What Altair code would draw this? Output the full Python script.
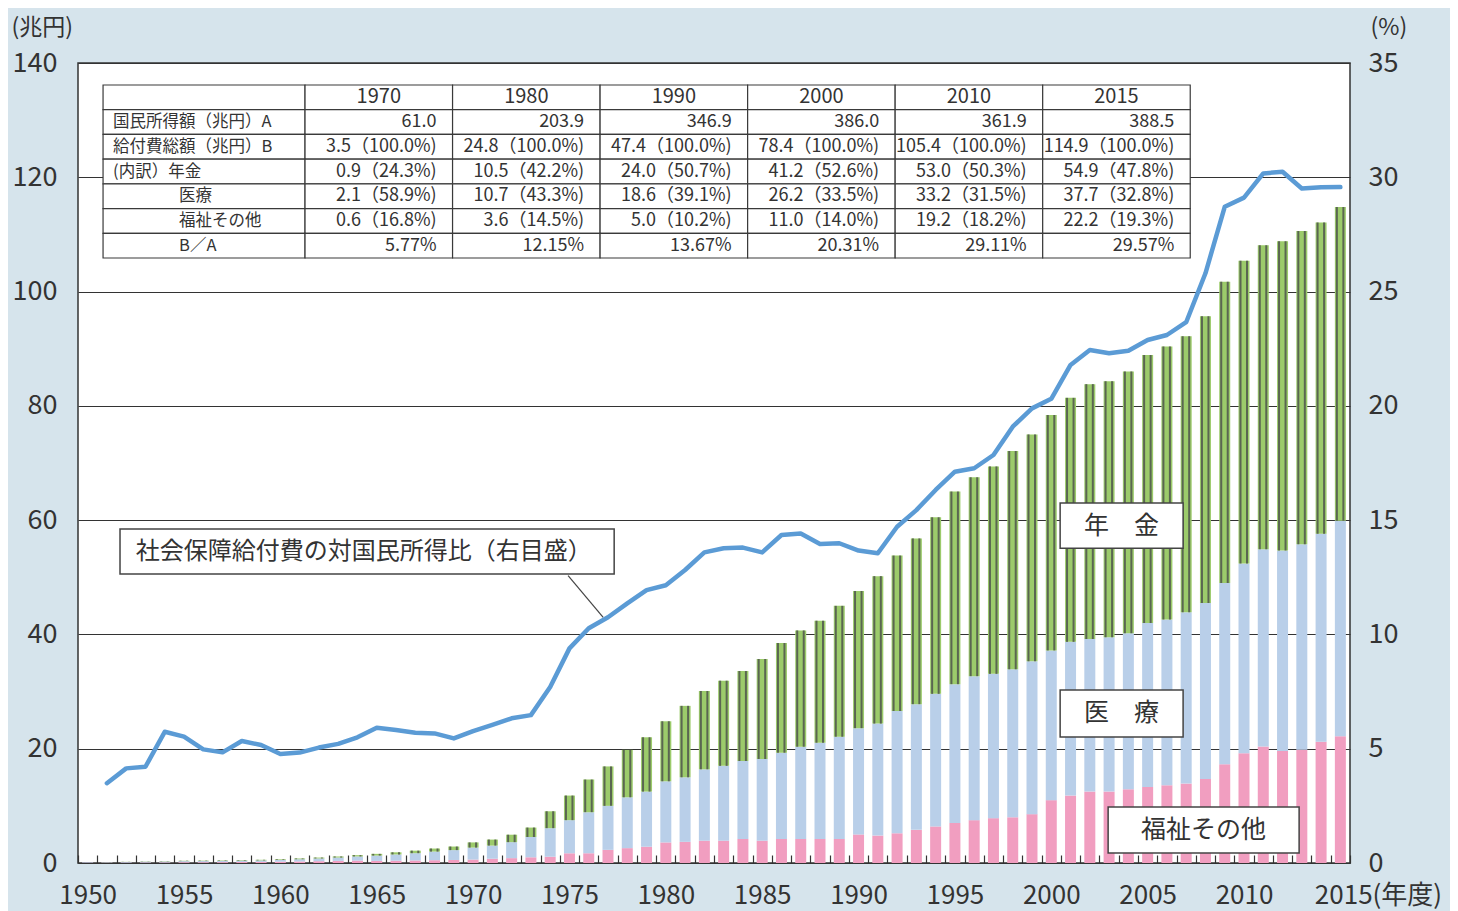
import altair as alt
import pandas as pd

FONT = "Noto Sans CJK JP"
W, H = 1272, 800
BG = "#d6e4ec"
TXT = "#333333"

# ---------------- data ----------------
years = list(range(1950, 2016))
pension = [0.01, 0.02, 0.03, 0.04, 0.05, 0.06, 0.07, 0.08, 0.09, 0.10,
           0.11, 0.13, 0.15, 0.18, 0.22, 0.30, 0.37, 0.44, 0.53, 0.62,
           0.9, 1.05, 1.3, 1.65, 2.95, 4.3, 5.7, 6.9, 8.3, 9.5,
           10.5, 12.5, 13.7, 14.9, 15.75, 17.5, 19.2, 20.35, 21.35, 22.9,
           24.0, 25.8, 27.2, 29.0, 30.9, 33.7, 34.8, 36.3, 38.2, 39.7,
           41.2, 42.7, 44.6, 44.8, 45.8, 46.9, 47.8, 48.3, 50.2, 52.7,
           53.0, 53.2, 54.1, 54.8, 54.5, 54.9]
medical = [0.06, 0.08, 0.10, 0.13, 0.15, 0.19, 0.20, 0.22, 0.26, 0.28,
           0.31, 0.39, 0.48, 0.59, 0.73, 0.93, 1.10, 1.28, 1.51, 1.73,
           2.1, 2.3, 2.8, 3.55, 5.0, 5.8, 7.2, 7.7, 8.9, 9.65,
           10.7, 11.3, 12.5, 13.1, 13.65, 14.3, 15.1, 16.15, 16.85, 17.9,
           18.6, 19.6, 21.4, 22.0, 23.2, 24.3, 25.2, 25.25, 25.9, 26.75,
           26.2, 26.9, 26.7, 27.0, 27.3, 28.7, 29.0, 30.0, 30.8, 31.7,
           33.2, 34.5, 35.1, 36.0, 36.4, 37.7]
welfare = [0.06, 0.06, 0.07, 0.09, 0.10, 0.14, 0.14, 0.15, 0.17, 0.18,
           0.23, 0.27, 0.32, 0.37, 0.42, 0.37, 0.40, 0.44, 0.49, 0.53,
           0.6, 0.75, 0.85, 1.0, 1.1, 1.7, 1.7, 2.3, 2.6, 2.85,
           3.6, 3.7, 3.9, 3.9, 4.2, 3.9, 4.2, 4.2, 4.2, 4.2,
           5.0, 4.8, 5.2, 5.8, 6.4, 7.0, 7.5, 7.85, 8.0, 8.55,
           11.0, 11.8, 12.5, 12.5, 12.9, 13.3, 13.6, 13.9, 14.7, 17.3,
           19.2, 20.4, 19.6, 19.8, 21.2, 22.2]

ratio_years = list(range(1951, 2016))
ratio = [3.49, 4.14, 4.21, 5.74, 5.53, 4.97, 4.84, 5.34, 5.16,
         4.77, 4.83, 5.05, 5.21, 5.5, 5.92, 5.82, 5.7, 5.67, 5.45,
         5.77, 6.04, 6.33, 6.47, 7.7, 9.39, 10.27, 10.75, 11.36, 11.94,
         12.15, 12.82, 13.59, 13.77, 13.8, 13.59, 14.35, 14.42, 13.96, 13.99,
         13.67, 13.55, 14.71, 15.44, 16.32, 17.12, 17.27, 17.85, 19.09, 19.89,
         20.31, 21.79, 22.44, 22.3, 22.41, 22.88, 23.1, 23.66, 25.8, 28.71,
         29.11, 30.17, 30.24, 29.51, 29.56, 29.57]

table_header = ["", "1970", "1980", "1990", "2000", "2010", "2015"]
table_labels = ["国民所得額（兆円）A", "給付費総額（兆円）B", "(内訳）年金",
                "　　　　医療", "　　　　福祉その他", "　　　　B／A"]
table_values = [
    ["61.0", "203.9", "346.9", "386.0", "361.9", "388.5"],
    ["3.5（100.0%)", "24.8（100.0%)", "47.4（100.0%)", "78.4（100.0%)", "105.4（100.0%)", "114.9（100.0%)"],
    ["0.9（24.3%)", "10.5（42.2%)", "24.0（50.7%)", "41.2（52.6%)", "53.0（50.3%)", "54.9（47.8%)"],
    ["2.1（58.9%)", "10.7（43.3%)", "18.6（39.1%)", "26.2（33.5%)", "33.2（31.5%)", "37.7（32.8%)"],
    ["0.6（16.8%)", "3.6（14.5%)", "5.0（10.2%)", "11.0（14.0%)", "19.2（18.2%)", "22.2（19.3%)"],
    ["5.77%", "12.15%", "13.67%", "20.31%", "29.11%", "29.57%"],
]

cats = ["年金", "医療", "福祉その他"]
cat_colors = ["#9ccb6b", "#b9cfe9", "#f19ec0"]
ratio_label = "社会保障給付費の対国民所得比（右目盛）"

# ---------------- derived tables ----------------
seg_rows, stripe_rows = [], []
for y, p, m, w in zip(years, pension, medical, welfare):
    seg_rows.append({"year": y, "cat": "福祉その他", "lo": 0.0, "hi": w})
    seg_rows.append({"year": y, "cat": "医療", "lo": w, "hi": w + m})
    seg_rows.append({"year": y, "cat": "年金", "lo": w + m, "hi": w + m + p})
    stripe_rows.append({"year": y, "lo": w + m, "hi": w + m + p})
seg = pd.DataFrame(seg_rows)
stripes = pd.DataFrame(stripe_rows)
line_df = pd.DataFrame({"year": ratio_years, "ratio": ratio})

# overlay coordinates expressed in (year, 兆円) units
OX = alt.Scale(domain=[1949.5, 2015.5], nice=False, zero=False)
OY = alt.Scale(domain=[0, 140], nice=False)

TBL_LEFT, LABEL_W, COL_W = 1950.8, 10.48, 7.655
TBL_TOP, ROW_H = 136.15, 4.325
edges = [TBL_LEFT, TBL_LEFT + LABEL_W] + [TBL_LEFT + LABEL_W + COL_W * (i + 1) for i in range(6)]

cells, texts = [], []
all_rows = [table_header] + [[lab] + vals for lab, vals in zip(table_labels, table_values)]
for r, row in enumerate(all_rows):
    y0 = TBL_TOP - ROW_H * r
    y1 = y0 - ROW_H
    for c, t in enumerate(row):
        cells.append({"x0": edges[c], "x1": edges[c + 1], "y0": y0, "y1": y1})
        if t == "":
            continue
        if r == 0:
            kind, tx = "header", (edges[c] + edges[c + 1]) / 2
        elif c == 0:
            kind, tx = ("sublabel" if t.startswith("　") else "label"), edges[c]
            t = t.lstrip("　")
        else:
            kind, tx = "value", edges[c + 1]
        texts.append({"tx": tx, "ty": (y0 + y1) / 2, "text": t, "kind": kind})
cells_df = pd.DataFrame(cells)
texts_df = pd.DataFrame(texts)

boxes_df = pd.DataFrame([
    {"x0": 1951.68, "x1": 1977.32, "y0": 58.45, "y1": 50.58},
    {"x0": 2000.46, "x1": 2006.84, "y0": 63.0, "y1": 55.1},
    {"x0": 2000.46, "x1": 2006.84, "y0": 30.28, "y1": 22.05},
    {"x0": 2002.95, "x1": 2012.86, "y0": 9.8, "y1": 1.75},
])
box_text_c = pd.DataFrame([
    {"tx": 2003.65, "ty": 59.05, "text": "年　金"},
    {"tx": 2003.65, "ty": 26.2, "text": "医　療"},
    {"tx": 2007.9, "ty": 5.78, "text": "福祉その他"},
])
box_text_l = pd.DataFrame([{"tx": 1952.5, "ty": 54.5, "text": ratio_label}])
leader_df = pd.DataFrame([{"x0": 1974.93, "y0": 50.3, "x1": 1976.75, "y1": 43.0}])

# ---------------- chart ----------------
xband = alt.Scale(domain=years, paddingInner=0, paddingOuter=0)
ybar = alt.Scale(domain=[0, 140], nice=False)

x_axis = alt.Axis(
    title=None, labelAngle=0, tickBand="extent", tickSize=8, offset=-8,
    domain=False, grid=False, labelPadding=19, labelFontSize=26, labelFont=FONT,
    labelColor=TXT, tickColor="#333333", tickWidth=1.2, labelOverlap=False,
    labelExpr="datum.value % 5 == 0 ? (datum.value == 2015 ? '2015(年度)' : datum.label) : ''",
    labelAlign={"condition": {"test": "datum.value == 2015", "value": "left"}, "value": "center"},
    labelOffset={"condition": {"test": "datum.value == 2015", "value": -26}, "value": 0},
)
y_axis = alt.Axis(
    values=list(range(0, 141, 20)), title="(兆円)", titleAngle=0, titleX=-67, titleY=-36,
    titleAlign="left", titleBaseline="middle", titleFontSize=23, titleFontWeight="normal",
    titleFont=FONT, titleColor=TXT, grid=True, gridColor="#333333", gridWidth=1,
    ticks=False, domain=False, labelPadding=21, labelFontSize=27, labelFont=FONT, labelColor=TXT,
)
y2_axis = alt.Axis(
    orient="right", values=list(range(0, 36, 5)), title="(%)", titleAngle=0, titleX=20, titleY=-36,
    titleAlign="left", titleBaseline="middle", titleFontSize=23, titleFontWeight="normal",
    titleFont=FONT, titleColor=TXT, grid=False, ticks=False, domain=False, labelPadding=18,
    labelFontSize=27, labelFont=FONT, labelColor=TXT,
)

bars = alt.Chart(seg).mark_bar(width=11).encode(
    x=alt.X("year:O", scale=xband, axis=x_axis),
    y=alt.Y("lo:Q", scale=ybar, axis=y_axis),
    y2="hi:Q",
    color=alt.Color("cat:N", scale=alt.Scale(domain=cats, range=cat_colors), legend=None),
)

def stripe(offset):
    return alt.Chart(stripes).mark_bar(width=2, xOffset=offset, color="#5a6651").encode(
        x=alt.X("year:O", scale=xband, axis=None),
        y=alt.Y("lo:Q", scale=ybar, axis=None),
        y2="hi:Q",
    )

line = alt.Chart(line_df).mark_line(color="#5b9bd5", strokeWidth=4.5, strokeJoin="round", strokeCap="round").encode(
    x=alt.X("year:O", scale=xband, axis=None),
    y=alt.Y("ratio:Q", scale=alt.Scale(domain=[0, 35], nice=False), axis=y2_axis),
)

table_rects = alt.Chart(cells_df).mark_rect(fill="white", stroke="#3a3a3a", strokeWidth=1.2).encode(
    x=alt.X("x0:Q", scale=OX, axis=None), x2="x1:Q",
    y=alt.Y("y0:Q", scale=OY, axis=None), y2="y1:Q",
)

def table_text(kind, align, dx, size):
    return alt.Chart(texts_df).transform_filter(alt.datum.kind == kind).mark_text(
        align=align, baseline="middle", dx=dx, fontSize=size, font=FONT, color=TXT
    ).encode(
        x=alt.X("tx:Q", scale=OX, axis=None),
        y=alt.Y("ty:Q", scale=OY, axis=None),
        text="text:N",
    )

leader = alt.Chart(leader_df).mark_rule(color="#444444", strokeWidth=1.2).encode(
    x=alt.X("x0:Q", scale=OX, axis=None), x2="x1:Q",
    y=alt.Y("y0:Q", scale=OY, axis=None), y2="y1:Q",
)
box_rects = alt.Chart(boxes_df).mark_rect(fill="white", stroke="#444444", strokeWidth=1.5).encode(
    x=alt.X("x0:Q", scale=OX, axis=None), x2="x1:Q",
    y=alt.Y("y0:Q", scale=OY, axis=None), y2="y1:Q",
)
box_txt_center = alt.Chart(box_text_c).mark_text(
    align="center", baseline="middle", fontSize=25, font=FONT, color=TXT
).encode(x=alt.X("tx:Q", scale=OX, axis=None), y=alt.Y("ty:Q", scale=OY, axis=None), text="text:N")
box_txt_left = alt.Chart(box_text_l).mark_text(
    align="left", baseline="middle", fontSize=24, font=FONT, color=TXT
).encode(x=alt.X("tx:Q", scale=OX, axis=None), y=alt.Y("ty:Q", scale=OY, axis=None), text="text:N")

chart = alt.layer(
    bars, stripe(-3.5), stripe(3), leader, line,
    table_rects,
    table_text("header", "center", 0, 20),
    table_text("label", "left", 10, 16.5),
    table_text("sublabel", "left", 76, 16.5),
    table_text("value", "right", -16, 18),
    box_rects, box_txt_center, box_txt_left,
).resolve_scale(
    x="independent", y="independent", color="independent"
).properties(
    width=W, height=H,
    padding={"left": 70, "top": 55, "right": 100, "bottom": 48},
    autosize=alt.AutoSizeParams(type="none"),
    background=BG,
).configure_view(
    fill="white", stroke="#333333", strokeWidth=1.5
)

chart.save("out.html", embed_options={"renderer": "svg", "actions": False})
